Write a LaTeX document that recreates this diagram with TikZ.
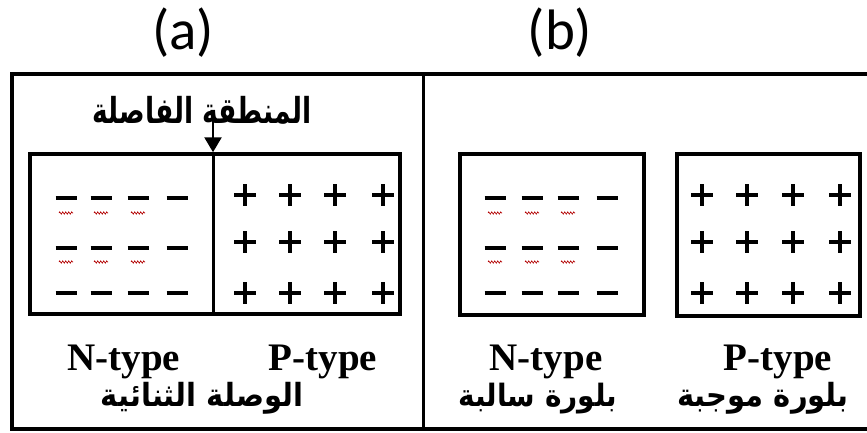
\documentclass[tikz,border=0pt]{standalone}
\usepackage{fontspec}
\setmainfont{Liberation Serif}
\newfontfamily\labelfont{Carlito}
\newfontfamily\arabicfont[Script=Arabic]{DejaVu Sans}
\TeXXeTstate=1
\usetikzlibrary{arrows.meta,decorations.pathmorphing}

\tikzset{
  frame/.style={line width=3.5pt},
  crystal/.style={draw, line width=3.5pt, inner sep=0pt},
  sign/.style={line width=4.5pt},
  typelabel/.style={font=\fontsize{39}{42}\selectfont\bfseries, anchor=base, inner sep=0pt},
  arlabel/.style={anchor=base, inner sep=0pt},
  pics/chargeminus/.style={code={\draw[sign] (-10.5,0) -- (10.5,0);}},
  pics/chargeplus/.style={code={\draw[sign] (-11,0) -- (11,0) (0,-11) -- (0,11);}},
  pics/squiggle/.style={code={\draw[red!70!black, line width=0.6pt,
      decorate, decoration={zigzag, segment length=3pt, amplitude=1.2pt}] (-7,0) -- (7,0);}}
}

\begin{document}
\begin{tikzpicture}[x=1pt, y=-1pt]
\useasboundingbox (0,0) rectangle (867,432);

% panel titles
\node[font=\labelfont\fontsize{57}{60}\selectfont, inner sep=0pt] (ta) at (183,33) {(a)};
\node[font=\labelfont\fontsize{57}{60}\selectfont, inner sep=0pt] (tb) at (560,33) {(b)};

% outer frame and panel divider
\coordinate (fTL) at (12,74);
\coordinate (fBL) at (12,429);
\coordinate (fTR) at (870,74);
\coordinate (fBR) at (870,429);
\coordinate (dTop) at (423.5,74);
\coordinate (dBot) at (423.5,429);
\draw[frame] (fTR) -- (fTL) -- (fBL) -- (fBR);
\draw[frame] (dTop) -- (dBot);

% ---------- (a) the p-n junction ----------
\node[crystal, minimum width=370pt, minimum height=160pt] (boxA) at (215,234) {};
\coordinate (jx) at (213,0);
\draw[line width=3pt] (boxA.north -| jx) -- (boxA.south -| jx);

\node[arlabel, font=\arabicfont\bfseries\fontsize{26.5}{30}\selectfont] (depl) at (202,123)
  {\scalebox{1}[1.35]{\beginR المنطقة الفاصلة\endR}};
\coordinate (arrStart) at (213,118);
\draw[line width=2.5pt, -{Triangle[length=15pt, width=17pt]}] (arrStart) -- (boxA.north -| jx);

% negative charges (n side)
\foreach \y in {198,248,293}
  \foreach \x in {66,101,138,177}
    \pic at (\x,\y) {chargeminus};
\foreach \y in {213,262}
  \foreach \x in {66,101,138}
    \pic at (\x,\y) {squiggle};
% positive charges (p side)
\foreach \y in {195,242,293}
  \foreach \x in {245,290,335,383}
    \pic at (\x,\y) {chargeplus};

\node[typelabel] (nA) at (124,370) {N-type};
\node[typelabel] (pA) at (323,370) {P-type};
\node[arlabel, font=\arabicfont\bfseries\fontsize{29}{33}\selectfont] (junc) at (202,406)
  {\scalebox{1}[1.1]{\beginR الوصلة الثنائية\endR}};

% ---------- (b) separate crystals ----------
\node[crystal, minimum width=184pt, minimum height=161pt] (boxN) at (552,234.5) {};
\node[crystal, minimum width=183pt, minimum height=162pt] (boxP) at (768.5,235) {};

\foreach \y in {198,248,293}
  \foreach \x in {495,532,568,607}
    \pic at (\x,\y) {chargeminus};
\foreach \y in {213,262}
  \foreach \x in {495,532,568}
    \pic at (\x,\y) {squiggle};
\foreach \y in {195,242,293}
  \foreach \x in {702,747,793,840}
    \pic at (\x,\y) {chargeplus};

\node[typelabel] (nB) at (546,370) {N-type};
\node[typelabel] (pB) at (778,370) {P-type};
\node[arlabel, font=\arabicfont\bfseries\fontsize{28}{32}\selectfont] (negc) at (538,406)
  {\scalebox{1}[1.1]{\beginR بلورة سالبة\endR}};
\node[arlabel, font=\arabicfont\bfseries\fontsize{29}{33}\selectfont] (posc) at (763,406)
  {\scalebox{1}[1.1]{\beginR بلورة موجبة\endR}};

\end{tikzpicture}
\end{document}
